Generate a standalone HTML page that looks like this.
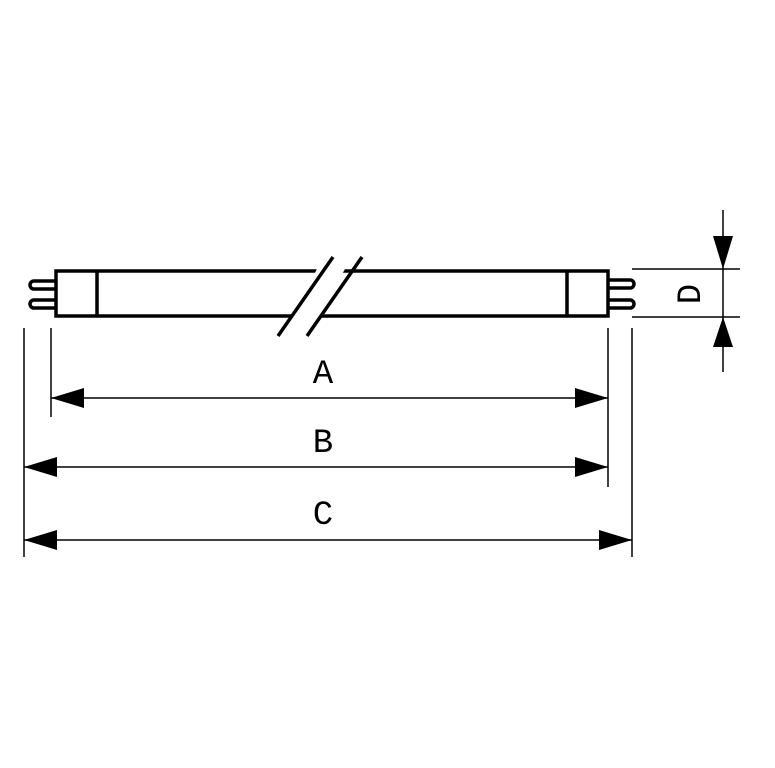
<!DOCTYPE html>
<html><head><style>body{margin:0;background:#fff}svg{display:block}</style></head><body>
<svg width="775" height="768" viewBox="0 0 775 768" xmlns="http://www.w3.org/2000/svg">
<g fill="none" stroke="#000" stroke-width="3.5">
<rect x="56" y="271" width="552" height="45" fill="#fff"/>
<line x1="97" y1="271" x2="97" y2="316"/>
<line x1="567" y1="271" x2="567" y2="316"/>
<path d="M56 281 H34 a4 4 0 0 0 0 8 H56 M56 300 H34 a4 4 0 0 0 0 8 H56"/>
<path d="M608 280 H630 a4 4 0 0 1 0 8 H608 M608 300 H630 a4 4 0 0 1 0 8 H608"/>
</g>
<polygon points="290,318 317,269 345,269 318,318" fill="#fff"/>
<g stroke="#000" stroke-width="3.5">
<line x1="278" y1="336" x2="333" y2="257"/>
<line x1="307" y1="336" x2="362" y2="257"/>
</g>
<g stroke="#000" stroke-width="1.5">
<line x1="24" y1="328" x2="24" y2="557"/>
<line x1="51" y1="328" x2="51" y2="417"/>
<line x1="608" y1="328" x2="608" y2="487"/>
<line x1="632" y1="328" x2="632" y2="557"/>
<line x1="51" y1="398" x2="608" y2="398"/>
<line x1="24" y1="467" x2="608" y2="467"/>
<line x1="24" y1="540" x2="632" y2="540"/>
<line x1="632" y1="269" x2="740" y2="269"/>
<line x1="632" y1="317" x2="740" y2="317"/>
<line x1="723" y1="210" x2="723" y2="372"/>
</g>
<g fill="#000">
<polygon points="51,398 84,388 84,408"/><polygon points="608,398 575,388 575,408"/>
<polygon points="24,467 57,457 57,477"/><polygon points="608,467 575,457 575,477"/>
<polygon points="24,540 57,530 57,550"/><polygon points="632,540 599,530 599,550"/>
<polygon points="723,269 713,236 733,236"/><polygon points="723,317 713,347 733,347"/>
</g>
<g font-family="'Liberation Mono', 'DejaVu Sans Mono', monospace" font-size="34" text-anchor="middle" fill="#000">
<text x="323" y="383">A</text>
<text x="323" y="452">B</text>
<text x="323" y="524">C</text>
<text transform="translate(700,294) rotate(-90)">D</text>
</g>
</svg>
</body></html>
